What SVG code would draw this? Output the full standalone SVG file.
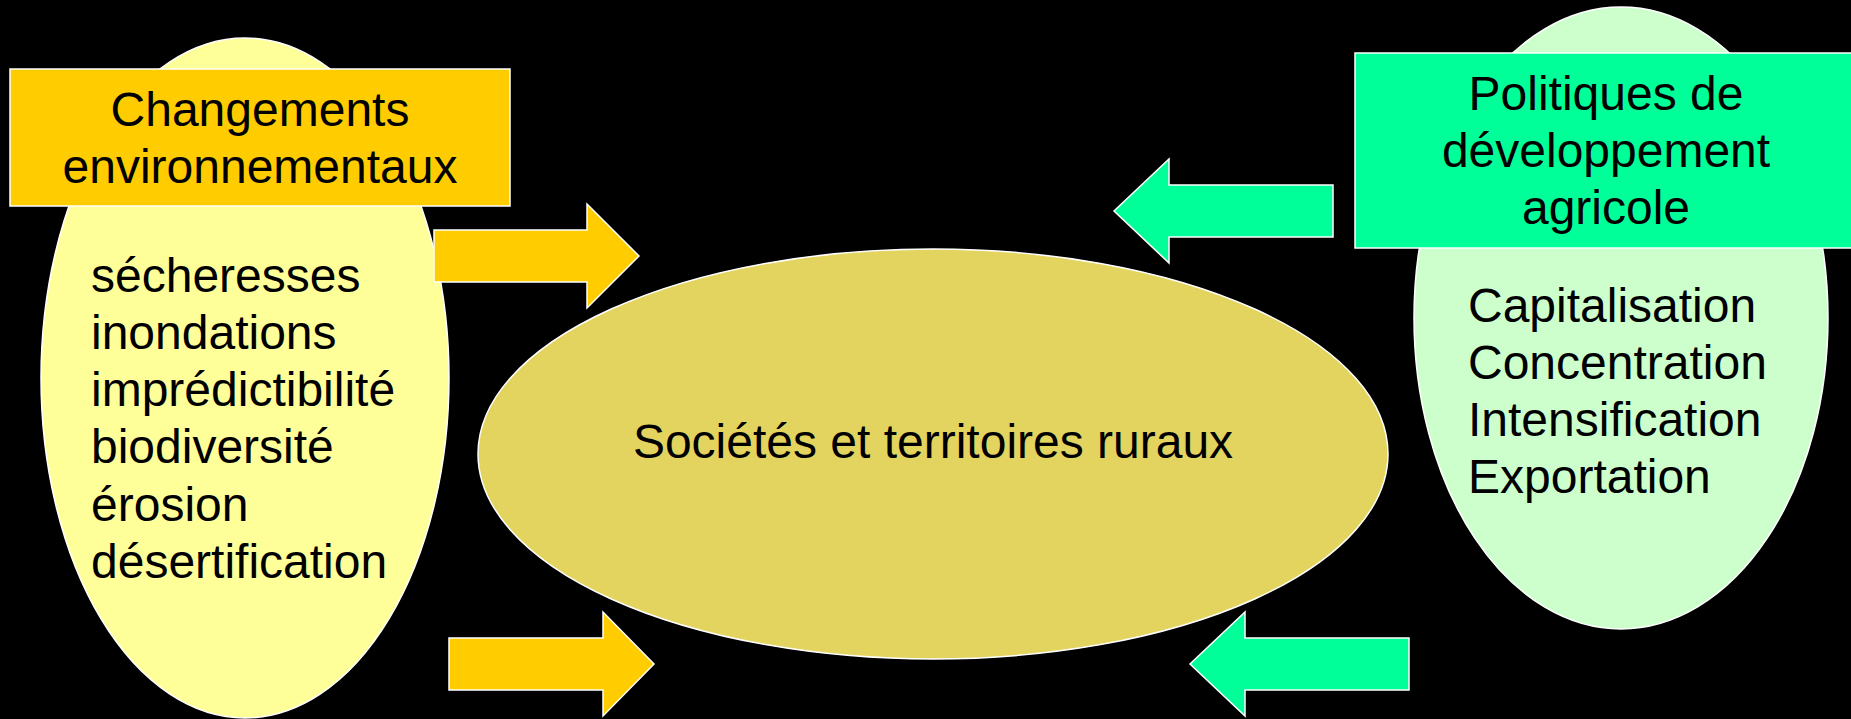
<svg xmlns="http://www.w3.org/2000/svg" width="1851" height="719" viewBox="0 0 1851 719">
<style>
.t{font-family:"Liberation Sans",Arial,sans-serif;font-size:48px;fill:#000}
.c{text-anchor:middle}
.o{stroke:#fff;stroke-width:1.5}
</style>
<rect x="0" y="0" width="1851" height="719" fill="#000"/>
<g id="env">
<ellipse class="o" cx="245" cy="378" rx="204" ry="340" fill="#FFFF99"/>
<rect class="o" x="10" y="69" width="500" height="137" fill="#FFCC00"/>
<text class="t c" x="260" y="126">Changements</text>
<text class="t c" x="260" y="183">environnementaux</text>
<text class="t" x="91" y="292">sécheresses</text>
<text class="t" x="91" y="349">inondations</text>
<text class="t" x="91" y="406">imprédictibilité</text>
<text class="t" x="91" y="463">biodiversité</text>
<text class="t" x="91" y="521">érosion</text>
<text class="t" x="91" y="578">désertification</text>
</g>
<g id="societes">
<ellipse class="o" cx="933" cy="454" rx="455" ry="205" fill="#E3D35F"/>
<text class="t c" x="933" y="458">Sociétés et territoires ruraux</text>
</g>
<g id="politiques">
<ellipse class="o" cx="1621" cy="318" rx="207" ry="311" fill="#CCFFCC"/>
<rect class="o" x="1355" y="53" width="500" height="195" fill="#00FF99"/>
<text class="t c" x="1606" y="110">Politiques de</text>
<text class="t c" x="1606" y="167">développement</text>
<text class="t c" x="1606" y="224">agricole</text>
<text class="t" x="1468" y="322">Capitalisation</text>
<text class="t" x="1468" y="379">Concentration</text>
<text class="t" x="1468" y="436">Intensification</text>
<text class="t" x="1468" y="493">Exportation</text>
</g>
<g id="connectors">
<polygon class="o" fill="#FFCC00" points="434,230 587,230 587,204 639,256 587,308 587,282 434,282"/>
<polygon class="o" fill="#FFCC00" points="449,638 603,638 603,612 654,664 603,716 603,690 449,690"/>
<polygon class="o" fill="#00FF99" points="1333,185 1169,185 1169,159 1114,211 1169,263 1169,237 1333,237"/>
<polygon class="o" fill="#00FF99" points="1409,638 1245,638 1245,612 1190,664 1245,716 1245,690 1409,690"/>
</g>
</svg>
